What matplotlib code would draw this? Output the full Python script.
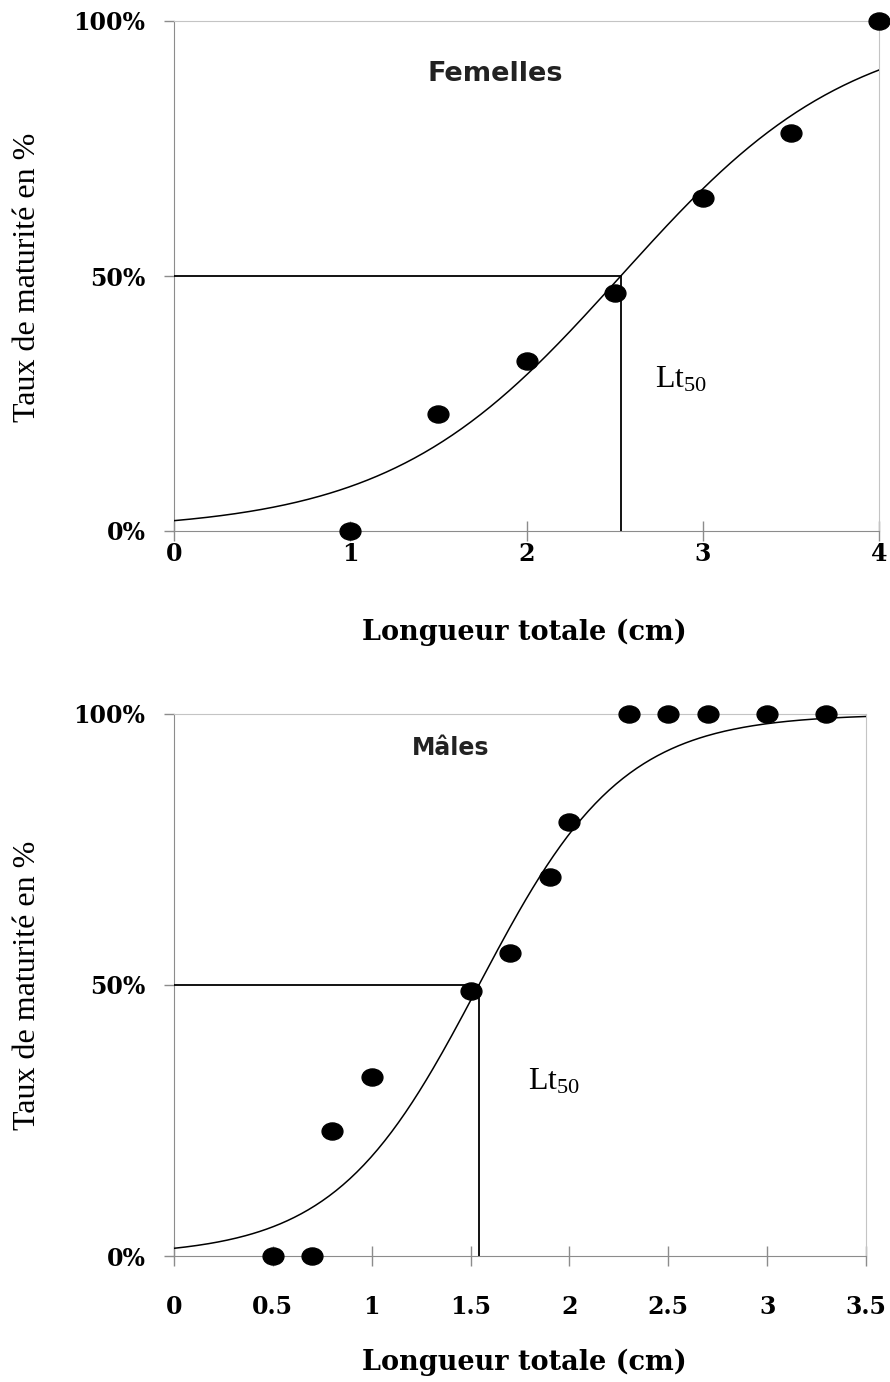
import matplotlib
matplotlib.use("Agg")
import matplotlib.pyplot as plt
import numpy as np
from matplotlib.path import Path
from matplotlib.transforms import Affine2D

# Femelles: observed maturity rates and logistic fit
fem_length = [1.0, 1.5, 2.0, 2.5, 3.0, 3.5, 4.0]
fem_rate = [0.0, 0.23, 0.333, 0.467, 0.653, 0.78, 1.0]
fem_lt50 = 2.535
fem_slope = 1.53

# Males: observed maturity rates and logistic fit
mal_length = [0.5, 0.7, 0.8, 1.0, 1.5, 1.7, 1.9, 2.0, 2.3, 2.5, 2.7, 3.0, 3.3]
mal_rate = [0.0, 0.0, 0.23, 0.33, 0.489, 0.559, 0.70, 0.80, 1.0, 1.0, 1.0, 1.0, 1.0]
mal_lt50 = 1.542
mal_slope = 2.75

fem_xticks = [0, 1, 2, 3, 4]
fem_xlabels = ["0", "1", "2", "3", "4"]
mal_xticks = [0, 0.5, 1, 1.5, 2, 2.5, 3, 3.5]
mal_xlabels = ["0", "0.5", "1", "1.5", "2", "2.5", "3", "3.5"]
yticks = [0, 0.5, 1.0]
ylabels = ["0%", "50%", "100%"]

W, H = 890, 1382
DARK_GRAY = "#8c8c8c"
LIGHT_GRAY = "#c4c4c4"
TICK_FONT = dict(family="DejaVu Serif", fontweight="bold", fontsize=17)

# slightly wide dots, like the stretched original
ELLIPSE = Path.unit_circle().transformed(Affine2D().scale(1.22, 1.0))


def draw_panel(ax, xs, ys, lt50, slope, xmax, xticks, xlabels, xpad, title, title_kw, title_xy, lt_xy):
    xx = np.linspace(0, xmax, 300)
    ax.plot(xx, 1 / (1 + np.exp(-slope * (xx - lt50))), color="black", lw=1.1, zorder=3)
    ax.plot([0, lt50], [0.5, 0.5], color="black", lw=1.3, zorder=3)
    ax.plot([lt50, lt50], [0.5, 0], color="black", lw=1.3, zorder=3)
    ax.scatter(xs, ys, marker=ELLIPSE, s=15 ** 2, color="black", zorder=5, clip_on=False)

    ax.set_xlim(0, xmax)
    ax.set_ylim(0, 1)
    ax.set_xticks(xticks)
    ax.set_xticklabels(xlabels, **TICK_FONT)
    ax.set_yticks(yticks)
    ax.set_yticklabels(ylabels, **TICK_FONT)
    ax.tick_params(axis="y", direction="out", length=7.5, width=1, color=DARK_GRAY, pad=13)
    ax.tick_params(axis="x", direction="inout", length=14, width=1, color=DARK_GRAY, pad=xpad)

    for side in ["left", "bottom"]:
        ax.spines[side].set_color(DARK_GRAY)
    for side in ["top", "right"]:
        ax.spines[side].set_color(LIGHT_GRAY)

    ax.text(*title_xy, title, transform=ax.transAxes, ha="center", va="center",
            family="DejaVu Sans", color="#222222", **title_kw)
    ax.text(*lt_xy, r"$\mathregular{Lt_{50}}$", transform=ax.transAxes, ha="left", va="center",
            family="Liberation Serif", fontsize=23)


plt.rcParams["mathtext.fontset"] = "custom"
plt.rcParams["mathtext.rm"] = "Liberation Serif"

fig = plt.figure(figsize=(W / 100, H / 100), dpi=100)
fig.patch.set_facecolor("white")


def px_axes(left, right, top, bottom):
    return fig.add_axes([left / W, (H - bottom) / H, (right - left) / W, (bottom - top) / H])


ax1 = px_axes(174, 879, 21, 531)
draw_panel(ax1, fem_length, fem_rate, fem_lt50, fem_slope, 4, fem_xticks, fem_xlabels, 1,
           "Femelles", dict(fontweight="bold", fontsize=19.5), (0.455, 0.896), (0.682, 0.296))

ax2 = px_axes(174, 866, 714, 1256)
draw_panel(ax2, mal_length, mal_rate, mal_lt50, mal_slope, 3.5, mal_xticks, mal_xlabels, 21,
           "Mâles", dict(fontweight="semibold", fontsize=17), (0.40, 0.937), (0.512, 0.321))

for yc, xc in [(277, 632), (985, 1362)]:
    fig.text(28 / W, (H - yc) / H, "Taux de maturité en %", rotation=90, ha="center", va="center",
             family="Liberation Serif", fontsize=23)
    fig.text(524 / W, (H - xc) / H, "Longueur totale (cm)", ha="center", va="center",
             family="DejaVu Serif", fontweight="bold", fontsize=19.5)

fig.savefig("out.png", dpi=100, facecolor="white")
